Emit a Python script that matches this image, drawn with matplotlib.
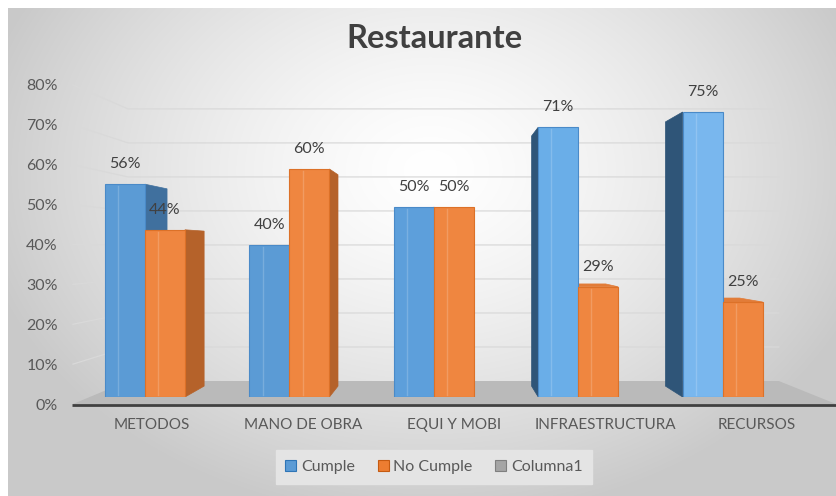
import numpy as np
import matplotlib
matplotlib.use("Agg")
import matplotlib.pyplot as plt
from matplotlib.patches import Polygon, Patch

# ---------------- data ----------------
title = "Restaurante"
categories = ["METODOS", "MANO DE OBRA", "EQUI Y MOBI", "INFRAESTRUCTURA", "RECURSOS"]
cumple = [0.56, 0.40, 0.50, 0.71, 0.75]
no_cumple = [0.44, 0.60, 0.50, 0.29, 0.25]
series_names = ["Cumple", "No Cumple", "Columna1"]
yticks = [0.0, 0.1, 0.2, 0.3, 0.4, 0.5, 0.6, 0.7, 0.8]
ytick_labels = ["0%", "10%", "20%", "30%", "40%", "50%", "60%", "70%", "80%"]

# ---------------- style ----------------
W, H = 836, 496
FONT = ["Lato", "DejaVu Sans"]
plt.rcParams["font.family"] = FONT
TXT = "#595959"
blue_fronts = ["#5b9bd5", "#5b9bd5", "#5d9fdb", "#6aaee8", "#79b7ee"]
blue_edge = "#4a8ac8"
orange_front = "#ef8640"
orange_edge = "#dc7128"
blue_side_l, blue_side_r = "#40709e", "#2f5578"
orange_side = "#b5622a"
blue_top, orange_top = "#8cc4f0", "#e27c38"
gray_leg = "#a5a5a5"

# perspective helpers (pixel space, y downward)
FRONT0, FRONT_SCALE = 404.0, 398.75
VPX, VPY = 447.0, 247.6
WALL_DEPTH = 0.853
BAR_DEPTH = 0.927
LEFT_PX, RIGHT_PX = 73.0, 836.0


def front_y(v):
    return FRONT0 - v * FRONT_SCALE


def to_back(x, y, r=WALL_DEPTH):
    return VPX + (x - VPX) * r, VPY + (y - VPY) * r


fig = plt.figure(figsize=(W / 100, H / 100), dpi=100)
fig.patch.set_facecolor("white")

# background gradient + pixel overlay
bg = fig.add_axes([0, 0, 1, 1], zorder=0)
bg.axis("off")
yy, xx = np.mgrid[0:H, 0:W]
d = np.sqrt(((xx - 430) / 460.0) ** 2 + ((yy - 170) / 350.0) ** 2)
val = 1 - 0.21 * np.clip(d, 0, 1) ** 1.4
img = np.dstack([val, val, val])
img[:8, :, :] = 1
img[:, :8, :] = 1
bg.imshow(img, extent=[0, W, H, 0], aspect="auto", interpolation="bilinear")
bg.set_xlim(0, W)
bg.set_ylim(H, 0)

# floor
f0 = front_y(0)
floor = [(LEFT_PX, f0), (RIGHT_PX, f0), to_back(RIGHT_PX, f0), to_back(LEFT_PX, f0)]
bg.add_patch(Polygon(floor, closed=True, facecolor="#bababa", edgecolor="none"))

# gridlines (side wall diagonal + back wall horizontal)
for v in yticks[1:]:
    fy = front_y(v)
    bx, by = to_back(LEFT_PX, fy)
    rx, ry = to_back(RIGHT_PX, fy)
    bg.plot([LEFT_PX, bx, rx], [fy, by, ry], color="#d9d9d9", lw=0.9)

bg.plot([LEFT_PX - 1, RIGHT_PX], [f0 + 1, f0 + 1], color="#404040", lw=2.0,
        solid_capstyle="butt")

# axis labels axes
ax_lab = fig.add_axes([LEFT_PX / W, (H - 404) / H, (W - LEFT_PX) / W, 319 / H], zorder=1)
ax_lab.patch.set_alpha(0)
ax_lab.set_ylim(0, 0.8)
ax_lab.set_yticks(yticks)
ax_lab.set_yticklabels(ytick_labels)
ax_lab.set_xlim(-0.5225, 4.524)
ax_lab.set_xticks(range(len(categories)))
ax_lab.set_xticklabels(categories)
ax_lab.tick_params(axis="y", length=0, pad=11, labelsize=11.5, labelcolor=TXT)
ax_lab.tick_params(axis="x", length=0, pad=10, labelsize=11, labelcolor=TXT)
for s in ax_lab.spines.values():
    s.set_visible(False)

# bars axes
ax = fig.add_axes([LEFT_PX / W, (H - 397) / H, (W - LEFT_PX) / W, 304 / H], zorder=2)
ax.patch.set_alpha(0)
ax.set_ylim(0, 0.8)
ax.set_xlim(-0.4986, 4.785)
ax.axis("off")

x = np.arange(len(categories))
w = 0.277
bars_c = ax.bar(x - w / 2, cumple, w, color=blue_fronts, edgecolor=blue_edge,
                lw=0.8, zorder=3)
bars_n = ax.bar(x + w / 2, no_cumple, w, color=orange_front, edgecolor=orange_edge,
                lw=0.8, zorder=3)

T = ax.transData
Ti = T.inverted()
vp_disp = np.array([VPX, H - VPY])


def add_depth(rect, side_l, side_r, top_col):
    x0 = rect.get_x()
    x1 = x0 + rect.get_width()
    h = rect.get_height()
    p = T.transform([(x0, 0), (x1, 0), (x1, h), (x0, h)])
    b = vp_disp + (p - vp_disp) * BAR_DEPTH
    cx = (p[0, 0] + p[1, 0]) / 2
    if cx < VPX:
        side = [p[1], p[2], b[2], b[1]]
        col = side_l
    else:
        side = [p[0], p[3], b[3], b[0]]
        col = side_r
    ax.add_patch(Polygon(Ti.transform(side), closed=True, facecolor=col,
                         edgecolor=col, lw=0.5, zorder=2))
    if p[2, 1] < vp_disp[1]:
        top = [p[3], p[2], b[2], b[3]]
        ax.add_patch(Polygon(Ti.transform(top), closed=True, facecolor=top_col,
                             edgecolor=top_col, lw=0.5, zorder=2))
    # bevel highlight line
    xl = x0 + rect.get_width() * 0.33
    ax.plot([xl, xl], [0.005, h - 0.005], color="white", alpha=0.18, lw=1, zorder=4)


for r in bars_c:
    add_depth(r, blue_side_l, blue_side_r, blue_top)
for r in bars_n:
    add_depth(r, orange_side, orange_side, orange_top)

# data labels
for rects, vals in ((bars_c, cumple), (bars_n, no_cumple)):
    for r, v in zip(rects, vals):
        ax.text(r.get_x() + r.get_width() / 2, v + 0.053, f"{round(v * 100)}%",
                ha="center", va="center", fontsize=11.5, color="#404040", zorder=5)

# title
fig.text(434 / W, 1 - 38 / H, title, ha="center", va="center", fontsize=23.5,
         fontweight="bold", color="#404040")

# legend
handles = [Patch(facecolor="#5b9bd5", edgecolor="#2e75b6", lw=0.8),
           Patch(facecolor="#ed7d31", edgecolor="#c55a11", lw=0.8),
           Patch(facecolor=gray_leg, edgecolor="#7f7f7f", lw=0.8)]
leg = fig.legend(handles, series_names, loc="center", bbox_to_anchor=(434 / W, 1 - 467 / H),
                 ncol=3, frameon=True, facecolor="#e4e4e4", edgecolor="#e4e4e4",
                 fancybox=False, framealpha=1, handlelength=0.7, handleheight=0.7,
                 handletextpad=0.3, columnspacing=1.4, fontsize=11.5, borderpad=0.6)
for t in leg.get_texts():
    t.set_color(TXT)

fig.savefig("out.png", dpi=100, facecolor=fig.get_facecolor())
